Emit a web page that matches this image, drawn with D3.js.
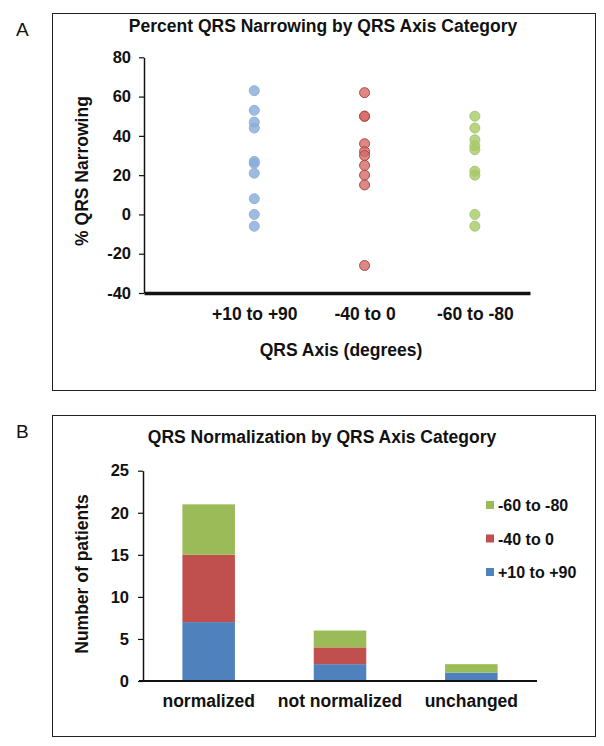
<!DOCTYPE html>
<html>
<head>
<meta charset="utf-8">
<script src="https://cdn.jsdelivr.net/npm/d3@7"></script>
<style>
body{margin:0;background:#fff;}
text{font-family:"Liberation Sans",Arial,sans-serif;font-weight:bold;fill:#111;}
</style>
</head>
<body>
<script>
// ---- Panel A data ----
const axisCategories = ["+10 to +90", "-40 to 0", "-60 to -80"];
const narrowingBlue = [63, 53, 47, 44, 27, 26, 21, 8, 0, -6];
const narrowingRed = [62, 50, 50, 36, 32, 30, 25, 20, 15, -26];
const narrowingGreen = [50, 44, 38, 35, 33, 22, 20, 0, -6];
const yTicksA = [80, 60, 40, 20, 0, -20, -40];

// ---- Panel B data ----
const outcomeCategories = ["normalized", "not normalized", "unchanged"];
const seriesNames = ["+10 to +90", "-40 to 0", "-60 to -80"];
const countsBlue = [7, 2, 1];
const countsRed = [8, 2, 0];
const countsGreen = [6, 2, 1];
const yTicksB = [0, 5, 10, 15, 20, 25];

const colors = ["#4F81BD", "#C0504D", "#9BBB59"];
const dotFill = ["#86ABDA", "#D66A67", "#A6CB63"];
const dotStroke = ["#97B0D0", "#A84A48", "#A9C67A"];

const FONT = "Liberation Sans, Arial, sans-serif";
const svg = d3.select("body").append("svg").attr("width", 604).attr("height", 746);

// ================= Panel A =================
svg.append("rect").attr("x", 52.5).attr("y", 13.5).attr("width", 543).attr("height", 377)
  .attr("fill", "none").attr("stroke", "#222").attr("stroke-width", 1);
svg.append("text").attr("x", 16).attr("y", 36).style("font-weight", "normal").style("font-size", "19px").text("A");
svg.append("text").attr("x", 323).attr("y", 32).attr("text-anchor", "middle").style("font-size", "17.5px")
  .text("Percent QRS Narrowing by QRS Axis Category");

const xA = d3.scaleLinear().domain([0, 3.5]).range([144, 530]);
const yA = d3.scaleLinear().domain([-40, 80]).range([293, 57.3]);

const yAxisA = svg.append("g").attr("transform", "translate(144,0)")
  .call(d3.axisLeft(yA).tickValues(yTicksA).tickFormat(d => String(d)).tickSize(5).tickSizeOuter(0).tickPadding(8));
yAxisA.select(".domain").attr("stroke", "#111").attr("stroke-width", 1.5);
yAxisA.selectAll(".tick line").attr("stroke", "#111").attr("stroke-width", 1.2);
yAxisA.selectAll(".tick text").style("font-size", "16.5px").style("font-family", FONT)
  .style("font-weight", "bold").attr("fill", "#111");

const xAxisA = svg.append("g").attr("transform", `translate(0,${yA(-40)})`)
  .call(d3.axisBottom(xA).tickValues([1, 2, 3]).tickFormat((d, i) => axisCategories[i]).tickSize(0).tickPadding(15));
xAxisA.select(".domain").attr("stroke", "#111").attr("stroke-width", 3.5);
xAxisA.selectAll(".tick text").style("font-size", "17.5px").style("font-family", FONT)
  .style("font-weight", "bold").attr("fill", "#111");

svg.append("text").attr("x", 341).attr("y", 356).attr("text-anchor", "middle").style("font-size", "17.5px")
  .text("QRS Axis (degrees)");
svg.append("text").attr("transform", "translate(88,171) rotate(-90)").attr("text-anchor", "middle")
  .style("font-size", "17.5px").text("% QRS Narrowing");

const dotSeries = [narrowingBlue, narrowingRed, narrowingGreen];
dotSeries.forEach((vals, si) => {
  svg.append("g").selectAll("circle").data(vals).join("circle")
    .attr("cx", xA(si + 1)).attr("cy", d => yA(d)).attr("r", 5)
    .attr("fill", dotFill[si]).attr("fill-opacity", 0.8)
    .attr("stroke", dotStroke[si]).attr("stroke-width", 1);
});

// ================= Panel B =================
svg.append("rect").attr("x", 52.5).attr("y", 415.5).attr("width", 543).attr("height", 321)
  .attr("fill", "none").attr("stroke", "#222").attr("stroke-width", 1);
svg.append("text").attr("x", 16).attr("y", 438).style("font-weight", "normal").style("font-size", "19px").text("B");
svg.append("text").attr("x", 322).attr("y", 443).attr("text-anchor", "middle").style("font-size", "17.5px")
  .text("QRS Normalization by QRS Axis Category");

const xB = d3.scaleBand().domain(outcomeCategories).range([143, 537]).paddingInner(0.6).paddingOuter(0.3);
const yB = d3.scaleLinear().domain([0, 25]).range([681, 470.7]);

const stackData = outcomeCategories.map((c, i) => ({cat: c, s0: countsBlue[i], s1: countsRed[i], s2: countsGreen[i]}));
const stacked = d3.stack().keys(["s0", "s1", "s2"])(stackData);
stacked.forEach((layer, li) => {
  svg.append("g").selectAll("rect").data(layer).join("rect")
    .attr("x", d => xB(d.data.cat)).attr("width", xB.bandwidth())
    .attr("y", d => yB(d[1])).attr("height", d => yB(d[0]) - yB(d[1]))
    .attr("fill", colors[li]);
});

const yAxisB = svg.append("g").attr("transform", "translate(143,0)")
  .call(d3.axisLeft(yB).tickValues(yTicksB).tickSize(5).tickSizeOuter(0).tickPadding(9));
yAxisB.select(".domain").attr("stroke", "#111").attr("stroke-width", 1.5);
yAxisB.selectAll(".tick line").attr("stroke", "#111").attr("stroke-width", 1.2);
yAxisB.selectAll(".tick text").style("font-size", "16.5px").style("font-family", FONT)
  .style("font-weight", "bold").attr("fill", "#111");

const xAxisB = svg.append("g").attr("transform", `translate(0,${yB(0)})`)
  .call(d3.axisBottom(xB).tickSize(0).tickPadding(14));
xAxisB.select(".domain").attr("stroke", "#111").attr("stroke-width", 2).attr("d", "M139,0H537");
xAxisB.selectAll(".tick text").style("font-size", "17.5px").style("font-family", FONT)
  .style("font-weight", "bold").attr("fill", "#111");

svg.append("text").attr("transform", "translate(88,574) rotate(-90)").attr("text-anchor", "middle")
  .style("font-size", "17.5px").text("Number of patients");

// legend (reverse order, top = last series)
const legendY = d3.scalePoint().domain(seriesNames.slice().reverse()).range([512, 579]);
seriesNames.forEach((name, i) => {
  const y = legendY(name);
  svg.append("rect").attr("x", 486).attr("y", y - 11).attr("width", 8).attr("height", 8).attr("fill", colors[i]);
  svg.append("text").attr("x", 498).attr("y", y - 1).style("font-size", "16px").text(name);
});
</script>
</body>
</html>
